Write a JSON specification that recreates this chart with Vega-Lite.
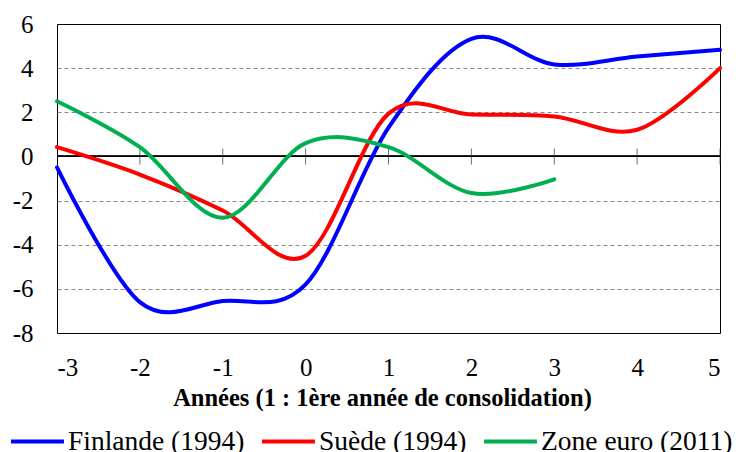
{
  "$schema": "https://vega.github.io/schema/vega-lite/v6.json",
  "width": 663,
  "height": 309,
  "autosize": {"type": "none"},
  "padding": {"left": 57, "top": 24, "right": 20, "bottom": 119},
  "background": "white",
  "config": {
    "font": "Liberation Serif",
    "view": {"stroke": "#000", "strokeWidth": 1},
    "axisY": {
      "domain": false, "ticks": false, "grid": true,
      "gridColor": {"condition": {"test": "datum.value == 6 || datum.value == -8 || datum.value == 0", "value": "transparent"}, "value": "#888888"},
      "gridDash": [4, 3], "gridWidth": 1,
      "labelFont": "Liberation Serif", "labelFontSize": 25, "labelColor": "#000", "labelPadding": 24,
      "labelExpr": "'' + datum.value"
    },
    "axisX": {
      "domain": false, "ticks": false, "grid": false,
      "labelFont": "Liberation Serif", "labelFontSize": 25, "labelColor": "#000", "labelPadding": 22,
      "labelExpr": "'' + datum.value",
      "titleFont": "Liberation Serif", "titleFontSize": 24.5, "titleFontWeight": "bold", "titleColor": "#000", "titlePadding": 6,
      "titleX": 325, "titleAlign": "center"
    },
    "legend": {
      "orient": "none", "legendX": -48, "legendY": 389, "direction": "horizontal", "columns": 3,
      "symbolType": "stroke", "symbolSize": 2800, "symbolStrokeWidth": 4,
      "labelFont": "Liberation Serif", "labelFontSize": 27.5, "labelColor": "#000", "labelOffset": 2,
      "columnPadding": 9, "labelLimit": 400
    }
  },
  "data": {"values": [
    {"annee": -3, "serie": "Finlande (1994)", "valeur": -0.5},
    {"annee": -2, "serie": "Finlande (1994)", "valeur": -6.6},
    {"annee": -1, "serie": "Finlande (1994)", "valeur": -6.55},
    {"annee": 0, "serie": "Finlande (1994)", "valeur": -5.8},
    {"annee": 1, "serie": "Finlande (1994)", "valeur": 1.3},
    {"annee": 2, "serie": "Finlande (1994)", "valeur": 5.33},
    {"annee": 3, "serie": "Finlande (1994)", "valeur": 4.17},
    {"annee": 4, "serie": "Finlande (1994)", "valeur": 4.53},
    {"annee": 5, "serie": "Finlande (1994)", "valeur": 4.83},
    {"annee": -3, "serie": "Suède (1994)", "valeur": 0.42},
    {"annee": -2, "serie": "Suède (1994)", "valeur": -0.82},
    {"annee": -1, "serie": "Suède (1994)", "valeur": -2.45},
    {"annee": 0, "serie": "Suède (1994)", "valeur": -4.5},
    {"annee": 1, "serie": "Suède (1994)", "valeur": 1.94},
    {"annee": 2, "serie": "Suède (1994)", "valeur": 1.9},
    {"annee": 3, "serie": "Suède (1994)", "valeur": 1.81},
    {"annee": 4, "serie": "Suède (1994)", "valeur": 1.21},
    {"annee": 5, "serie": "Suède (1994)", "valeur": 4.0},
    {"annee": -3, "serie": "Zone euro (2011)", "valeur": 2.5},
    {"annee": -2, "serie": "Zone euro (2011)", "valeur": 0.42},
    {"annee": -1, "serie": "Zone euro (2011)", "valeur": -2.78},
    {"annee": 0, "serie": "Zone euro (2011)", "valeur": 0.6},
    {"annee": 1, "serie": "Zone euro (2011)", "valeur": 0.42},
    {"annee": 2, "serie": "Zone euro (2011)", "valeur": -1.66},
    {"annee": 3, "serie": "Zone euro (2011)", "valeur": -1.04}
  ]},
  "layer": [
    {
      "mark": {"type": "rule", "color": "#000", "strokeWidth": 1},
      "encoding": {
        "y": {"datum": 0, "type": "quantitative", "title": null,
          "scale": {"domain": [-8, 6], "nice": false, "zero": false},
          "axis": {"values": [-8, -6, -4, -2, 0, 2, 4, 6]}}
      }
    },
    {
      "transform": [{"filter": "datum.serie == 'Finlande (1994)' && datum.annee > -3"}],
      "mark": {"type": "tick", "orient": "vertical", "size": 16, "thickness": 1, "color": "#333"},
      "encoding": {
        "x": {"field": "annee", "type": "quantitative", "title": "Années (1 : 1ère année de consolidation)",
          "scale": {"domain": [-3, 5], "nice": false, "zero": false},
          "axis": {"values": [-3, -2, -1, 0, 1, 2, 3, 4, 5]}},
        "y": {"datum": 0, "type": "quantitative", "title": null, "axis": {"values": [-8, -6, -4, -2, 0, 2, 4, 6]}}
      }
    },
    {
      "mark": {"type": "line", "interpolate": "cardinal", "tension": 0, "strokeWidth": 4, "strokeCap": "round"},
      "encoding": {
        "x": {"field": "annee", "type": "quantitative", "title": "Années (1 : 1ère année de consolidation)",
          "axis": {"values": [-3, -2, -1, 0, 1, 2, 3, 4, 5]}},
        "y": {"field": "valeur", "type": "quantitative", "title": null,
          "axis": {"values": [-8, -6, -4, -2, 0, 2, 4, 6]}},
        "color": {"field": "serie", "type": "nominal", "title": null,
          "scale": {"domain": ["Finlande (1994)", "Suède (1994)", "Zone euro (2011)"], "range": ["#0000FF", "#FF0000", "#00B050"]}}
      }
    }
  ]
}
